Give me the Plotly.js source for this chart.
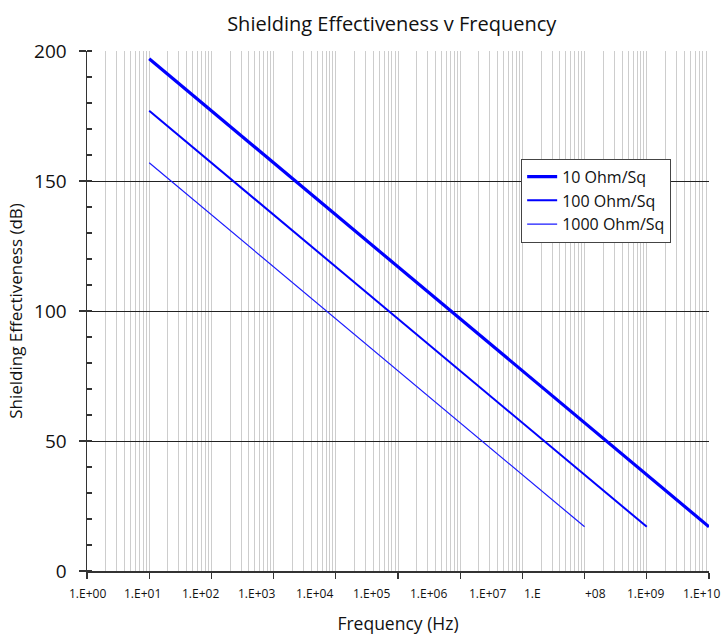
<!DOCTYPE html>
<html>
<head>
<meta charset="utf-8">
<script src="https://cdn.plot.ly/plotly-3.0.1.min.js"></script>
<style>html,body{margin:0;padding:0;background:#fff;}</style>
</head>
<body>
<div id="chart" style="width:721px;height:637px;"></div>
<script>
// Data
const freqHz10 = [1e1, 1e2, 1e3, 1e4, 1e5, 1e6, 1e7, 1e8, 1e9, 1e10];
const se10 = [197, 177, 157, 137, 117, 97, 77, 57, 37, 17];
const freqHz100 = [1e1, 1e2, 1e3, 1e4, 1e5, 1e6, 1e7, 1e8, 1e9];
const se100 = [177, 157, 137, 117, 97, 77, 57, 37, 17];
const freqHz1000 = [1e1, 1e2, 1e3, 1e4, 1e5, 1e6, 1e7, 1e8];
const se1000 = [157, 137, 117, 97, 77, 57, 37, 17];
const seriesNames = ['10 Ohm/Sq', '100 Ohm/Sq', '1000 Ohm/Sq'];

const xTickVals = [1e0, 1e1, 1e2, 1e3, 1e4, 1e5, 1e6, 1e7, 1e8, 1e9, 1e10];
// tick labels as drawn in the reference (the 1.E+08 label is split in two)
const xTickLabels = ['1.E+00', '1.E+01', '1.E+02', '1.E+03', '1.E+04', '1.E+05', '1.E+06', '1.E+07', '1.E', '+08', '1.E+09', '1.E+10'];
const xTickLabelPos = [0, 0.892, 1.817, 2.733, 3.65, 4.574, 5.498, 6.431, 7.165, 8.183, 8.979, 9.887]; // log10 positions where the labels sit
const yTickVals = [0, 50, 100, 150, 200];

const FONT = '"Open Sans", "Noto Sans", sans-serif';
const blue = '#0000ff';

const traces = [
  {x: freqHz10, y: se10, name: seriesNames[0], legendgroup: 'a', mode: 'lines', line: {color: blue, width: 3.2}},
  {x: freqHz100, y: se100, name: seriesNames[1], legendgroup: 'b', mode: 'lines', line: {color: blue, width: 2}},
  {x: freqHz1000, y: se1000, name: seriesNames[2], legendgroup: 'c', mode: 'lines', line: {color: '#1a1aff', width: 1.2}}
];

const annotations = xTickLabels.map((t, i) => ({
  text: t, x: xTickLabelPos[i], y: -0.0434, xref: 'x', yref: 'paper',
  xanchor: 'center', yanchor: 'middle', showarrow: false,
  font: {family: FONT, size: 12, color: '#111'}
}));

const layout = {
  width: 721, height: 637,
  margin: {l: 87, r: 12, t: 51, b: 66},
  paper_bgcolor: '#fff', plot_bgcolor: '#fff',
  font: {family: FONT, color: '#111'},
  title: {text: 'Shielding Effectiveness v Frequency', x: 0.49, xref: 'paper', xanchor: 'center',
          y: 0.963, yref: 'container', yanchor: 'middle', font: {family: FONT, size: 20, color: '#111'}},
  showlegend: true,
  legend: {x: 0.698, y: 0.793, xanchor: 'left', yanchor: 'top', bgcolor: '#fff',
           bordercolor: '#444', borderwidth: 1, font: {family: FONT, size: 16, color: '#111'},
           traceorder: 'grouped', tracegroupgap: 0},
  xaxis: {
    type: 'log', range: [0, 10], tickvals: xTickVals, showticklabels: false,
    ticks: 'outside', ticklen: 6, tickcolor: '#333', tickwidth: 1.3,
    showline: true, linecolor: '#333', linewidth: 1.5,
    showgrid: true, gridcolor: '#cdcdcd', gridwidth: 1, zeroline: false,
    minor: {dtick: 'D1', showgrid: true, gridcolor: '#cdcdcd', gridwidth: 1, ticks: ''},
    title: {text: 'Frequency (Hz)', standoff: 40, font: {family: FONT, size: 17.5, color: '#111'}},
    automargin: false, fixedrange: true
  },
  yaxis: {
    range: [0, 200], tickvals: yTickVals, ticks: 'outside', ticklen: 7, tickcolor: '#333', tickwidth: 1.3,
    showline: true, linecolor: '#333', linewidth: 1.5,
    showgrid: true, gridcolor: '#222', gridwidth: 1, zeroline: false,
    ticklabelstandoff: 8,
    tickfont: {family: FONT, size: 19, color: '#111'},
    minor: {dtick: 10, ticks: 'inside', ticklen: 5, tickcolor: '#333', tickwidth: 1.3, showgrid: false},
    title: {text: 'Shielding Effectiveness (dB)', standoff: 7, font: {family: FONT, size: 17, color: '#111'}},
    automargin: false, fixedrange: true
  },
  annotations: annotations
};

Plotly.newPlot('chart', traces, layout, {displayModeBar: false, staticPlot: true});
</script>
</body>
</html>
